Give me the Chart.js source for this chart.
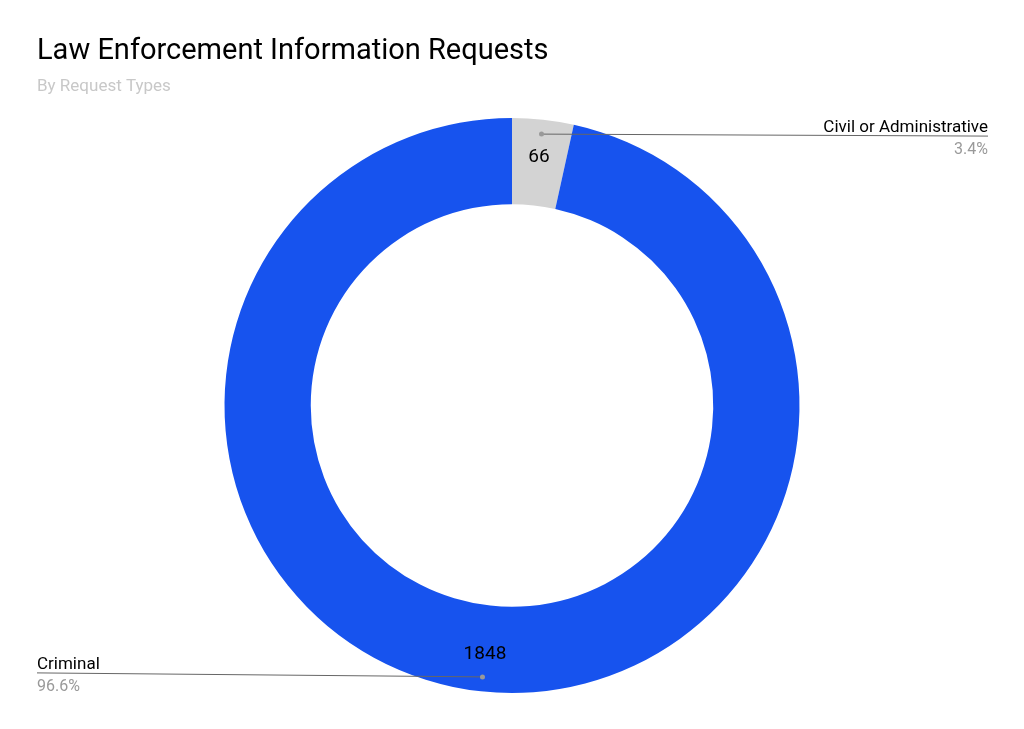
<!DOCTYPE html>
<html><head><meta charset="utf-8">
<script src="https://cdn.jsdelivr.net/npm/chart.js@4"></script>
<style>html,body{margin:0;padding:0;background:#fff}#w{width:1024px;height:729px;position:relative}</style>
</head><body><div id="w"><canvas id="c"></canvas></div>
<script>
const categories = ["Civil or Administrative", "Criminal"];
const values = [66, 1848];
const colors = ["#d3d3d3", "#1753ee"];
const titleText = "Law Enforcement Information Requests";
const subtitleText = "By Request Types";

const deco = {
  id: 'deco',
  afterDraw(chart) {
    const ctx = chart.ctx;
    ctx.save();
    ctx.textBaseline = 'alphabetic';
    ctx.fillStyle = '#000';
    ctx.font = '29px Roboto';
    ctx.textAlign = 'left';
    ctx.fillText(titleText, 37, 59);
    ctx.fillStyle = '#c8c8c8';
    ctx.font = '17px Roboto';
    ctx.fillText(subtitleText, 37, 91);
    const meta = chart.getDatasetMeta(0);
    const total = values.reduce((a, b) => a + b, 0);
    meta.data.forEach((arc, i) => {
      const mid = (arc.startAngle + arc.endAngle) / 2;
      const cx = arc.x, cy = arc.y;
      const vr = 250, pr = 273;
      ctx.fillStyle = '#000';
      ctx.font = '19px Roboto';
      ctx.textAlign = 'center';
      ctx.textBaseline = 'middle';
      ctx.fillText(String(values[i]), cx + Math.cos(mid) * vr, cy + Math.sin(mid) * vr);
      const px = cx + Math.cos(mid) * pr, py = cy + Math.sin(mid) * pr;
      const right = Math.cos(mid) >= 0;
      const ex = right ? 988 : 37;
      const ey = right ? py + 2 : py - 4;
      ctx.strokeStyle = '#666';
      ctx.lineWidth = 1;
      ctx.beginPath(); ctx.moveTo(px, py); ctx.lineTo(ex, ey); ctx.stroke();
      ctx.fillStyle = '#999';
      ctx.beginPath(); ctx.arc(px, py, 2.5, 0, Math.PI * 2); ctx.fill();
      ctx.textAlign = right ? 'right' : 'left';
      ctx.textBaseline = 'alphabetic';
      ctx.fillStyle = '#000';
      ctx.font = '17px Roboto';
      ctx.fillText(categories[i], ex, ey - 4);
      ctx.fillStyle = '#999';
      ctx.font = '16px Roboto';
      ctx.fillText((values[i] / total * 100).toFixed(1) + '%', ex, ey + 18);
    });
    ctx.restore();
  }
};

new Chart(document.getElementById('c'), {
  type: 'doughnut',
  data: { labels: categories, datasets: [{ data: values, backgroundColor: colors, borderWidth: 0 }] },
  options: {
    responsive: true, maintainAspectRatio: false, animation: false,
    cutout: '70%',
    layout: { padding: { top: 118, bottom: 36, left: 200, right: 200 } },
    plugins: { legend: { display: false }, tooltip: { enabled: false } }
  },
  plugins: [deco]
});
</script></body></html>
